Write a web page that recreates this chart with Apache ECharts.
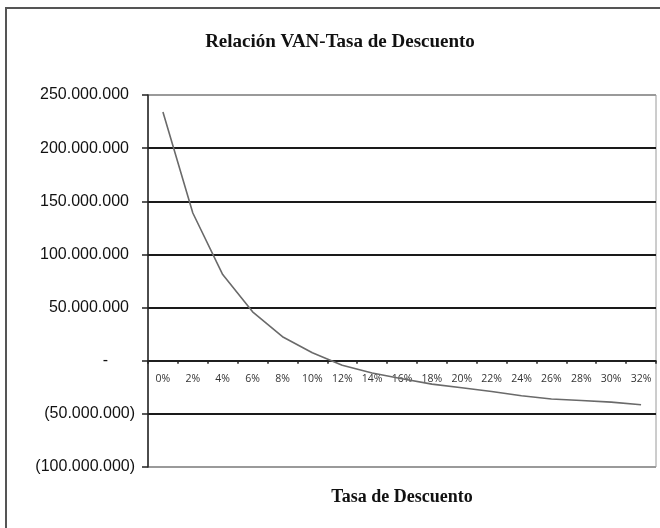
<!DOCTYPE html>
<html>
<head>
<meta charset="utf-8">
<script src="https://cdn.jsdelivr.net/npm/echarts@6/dist/echarts.min.js"></script>
<style>
  html, body { margin: 0; padding: 0; background: #fff; }
  #chart { width: 660px; height: 528px; }
</style>
</head>
<body>
<div id="chart"></div>
<script>
// Discount rates (x categories)
const tasas = ['0%', '2%', '4%', '6%', '8%', '10%', '12%', '14%', '16%', '18%',
               '20%', '22%', '24%', '26%', '28%', '30%', '32%'];
// Net present value at each rate
const van = [234000000, 139000000, 81000000, 46000000, 22600000, 7500000, -4300000,
             -11500000, -17000000, -22000000, -25500000, -29000000, -33000000,
             -36000000, -37500000, -39000000, -41500000];
// Value axis range
const yMin = -100000000;
const yMax = 250000000;
const yStep = 50000000;

const tituloPrincipal = 'Relación VAN-Tasa de Descuento';
const tituloEjeX = 'Tasa de Descuento';

function miles(n) {
  return String(n).replace(/\B(?=(\d{3})+(?!\d))/g, '.');
}
// Accounting style: zero as a dash, negatives in parentheses
function contable(v) {
  if (v === 0) return '{z|-}';
  if (v < 0) return '(' + miles(-v) + ')';
  return '{p|' + miles(v) + '}';
}

const fuenteEje = '"Liberation Sans", Arial, sans-serif';
const chart = echarts.init(document.getElementById('chart'), null, { renderer: 'canvas' });
chart.setOption({
  backgroundColor: '#ffffff',
  animation: false,
  grid: {
    left: 148, right: 4, top: 95, bottom: 61,
    show: true, borderColor: '#9a9a9a', borderWidth: 1, backgroundColor: 'transparent'
  },
  graphic: [
    {
      type: 'rect', silent: true,
      shape: { x: 6, y: 8, width: 700, height: 560 },
      style: { fill: 'none', stroke: '#555', lineWidth: 2 }
    },
    {
      type: 'text', x: 340, y: 42,
      style: {
        text: tituloPrincipal,
        font: 'bold 19px "Liberation Serif", "Times New Roman", serif',
        fill: '#111', textAlign: 'center', textVerticalAlign: 'middle'
      }
    },
    {
      type: 'text', x: 402, y: 497,
      style: {
        text: tituloEjeX,
        font: 'bold 18px "Liberation Serif", "Times New Roman", serif',
        fill: '#111', textAlign: 'center', textVerticalAlign: 'middle'
      }
    }
  ],
  xAxis: {
    type: 'category',
    data: tasas,
    boundaryGap: true,
    axisLine: { onZero: true, lineStyle: { color: '#222', width: 1.5 } },
    axisTick: { show: true, length: 3, lineStyle: { color: '#222', width: 1.5 } },
    axisLabel: {
      interval: 0, margin: -93,
      fontFamily: '"Open Sans", "DejaVu Sans", sans-serif', fontSize: 10.5, color: '#333'
    },
    splitLine: { show: false }
  },
  yAxis: {
    type: 'value',
    min: yMin, max: yMax, interval: yStep,
    axisLine: { show: true, lineStyle: { color: '#222', width: 1.5 } },
    axisTick: { show: true, length: 6, lineStyle: { color: '#222', width: 1.5 } },
    axisLabel: {
      margin: 13,
      fontFamily: fuenteEje, fontSize: 16, color: '#111',
      formatter: contable,
      rich: {
        z: { fontFamily: fuenteEje, fontSize: 16, color: '#111', padding: [0, 27, 0, 0] },
        p: { fontFamily: fuenteEje, fontSize: 16, color: '#111', padding: [0, 6, 0, 0] }
      }
    },
    splitLine: {
      show: true,
      lineStyle: {
        color: ['#9a9a9a', '#1a1a1a', '#1a1a1a', '#1a1a1a', '#1a1a1a', '#1a1a1a', '#1a1a1a', '#9a9a9a'],
        width: 1.8
      }
    }
  },
  series: [{
    type: 'line',
    data: van,
    symbol: 'none',
    smooth: false,
    lineStyle: { color: '#6a6a6a', width: 1.6 },
    z: 3
  }]
});
</script>
</body>
</html>
